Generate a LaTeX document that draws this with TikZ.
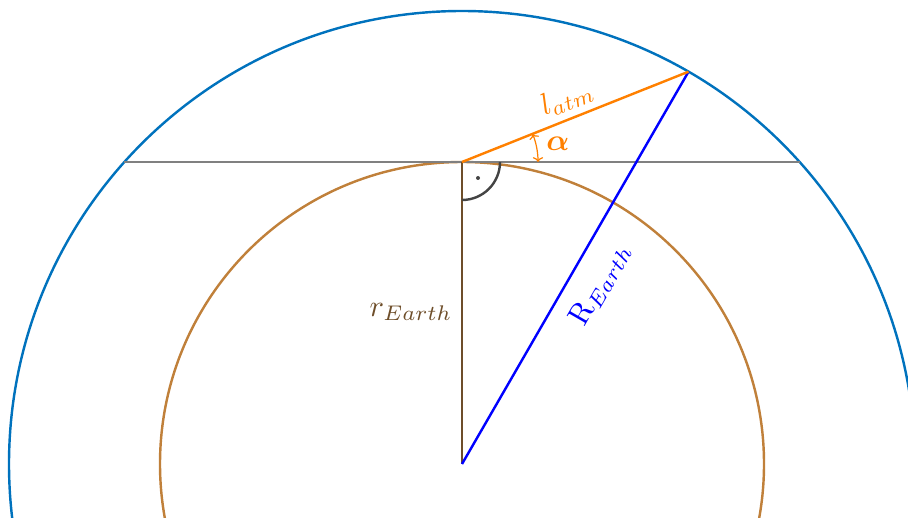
\documentclass[tikz,border=0pt]{standalone}
\usepackage{amsmath,bm}
\usetikzlibrary{arrows.meta}
\definecolor{outerblue}{RGB}{0,114,189}
\definecolor{earthbrown}{RGB}{192,128,58}
\definecolor{darkbrown}{RGB}{110,78,42}
\definecolor{atmorange}{RGB}{255,128,0}
\definecolor{linegray}{RGB}{128,128,128}
\definecolor{markgray}{RGB}{68,68,68}
\tikzset{
  curve/.style={line width=0.8pt},
  anglemark/.style={markgray, line width=0.8pt},
  alphaarrow/.style={atmorange, line width=0.4pt, {To[length=1.6pt]}-{To[length=1.6pt]}},
  lbl/.style={inner sep=1pt}
}
\begin{document}
\begin{tikzpicture}[x=0.33pt,y=-0.33pt]
\useasboundingbox (0,0) rectangle (908,518);
\clip (0,0) rectangle (908,518);
\coordinate (O) at (462,464);
\coordinate (T) at (462,162);
\coordinate (P) at (688.5,71.7);
\coordinate (H1) at (124.4,162);
\coordinate (H2) at (799.6,162);
\draw[curve, outerblue] (O) circle[radius=453];
\draw[curve, earthbrown] (O) circle[radius=302];
\draw[curve, linegray] (H1) -- (H2);
\draw[curve, darkbrown] (T) -- (O);
\draw[curve, blue] (O) -- (P);
\draw[curve, atmorange] (T) -- (P);
\draw[anglemark] (T) ++(0,38) arc[start angle=90, end angle=0, radius=38];
\fill[markgray] (T) ++(16,16) circle[radius=2];
\draw[alphaarrow] (T) ++(76,0) arc[start angle=0, end angle=-21.7, radius=76];
\node[lbl, atmorange] (alpha) at (558,144) {$\boldsymbol{\alpha}$};
\node[lbl, atmorange, rotate=21.7] (latm) at (567,98) {$l_{atm}$};
\node[lbl, blue, rotate=60] (Rlbl) at (600,284) {R$_{Earth}$};
\node[lbl, darkbrown] (rlbl) at (411,312) {$r_{Earth}$};
\end{tikzpicture}
\end{document}
